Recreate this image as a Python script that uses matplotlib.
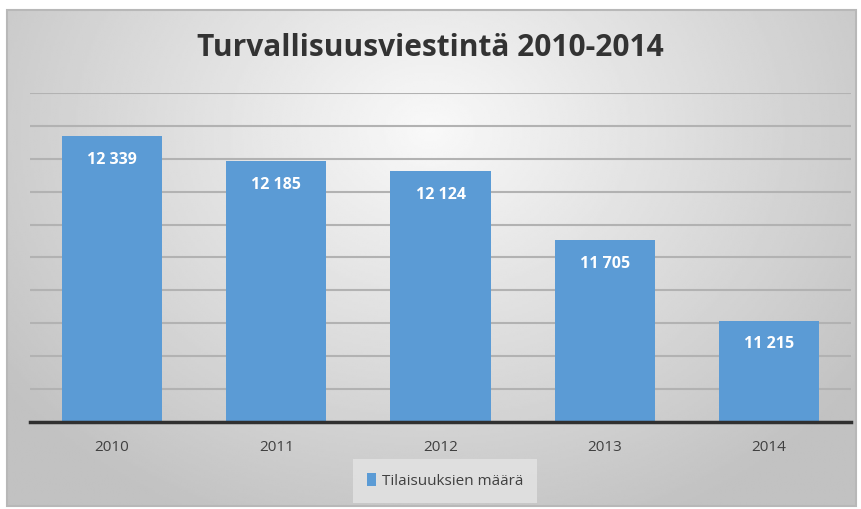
import numpy as np
import matplotlib
matplotlib.use("Agg")
import matplotlib.pyplot as plt
from matplotlib.patches import Rectangle

years = ["2010", "2011", "2012", "2013", "2014"]
values = [12339, 12185, 12124, 11705, 11215]
labels = ["12 339", "12 185", "12 124", "11 705", "11 215"]
series_name = "Tilaisuuksien määrä"
title = "Turvallisuusviestintä 2010-2014"

W, H = 861, 509
fig = plt.figure(figsize=(W / 100, H / 100), dpi=100)
fig.patch.set_facecolor("white")

# background panel with radial gradient
bg = fig.add_axes([0, 0, 1, 1])
bg.set_xlim(0, W)
bg.set_ylim(H, 0)
bg.axis("off")
x0, x1, y0, y1 = 7, 856, 10, 506
xx, yy = np.meshgrid(np.linspace(x0, x1, 400), np.linspace(y0, y1, 240))
d = np.sqrt(((xx - 430) / 520) ** 2 + ((yy - 130) / 420) ** 2)
shade = np.clip(0.975 - 0.21 * d, 0.76, 0.975)
bg.imshow(shade, cmap="gray", vmin=0, vmax=1, extent=(x0, x1, y1, y0),
          aspect="auto", interpolation="bilinear")
bg.add_patch(Rectangle((x0, y0), x1 - x0, y1 - y0, fill=False,
                       edgecolor="#B8B8B8", lw=1.5))

ax = fig.add_axes([30 / W, (H - 422) / H, (851 - 30) / W, (422 - 93) / H])
ax.patch.set_alpha(0)
x = np.arange(len(years))
bars = ax.bar(x, values, width=0.61, color="#5B9BD5", zorder=3)
ax.set_ylim(10600, 12600)
ax.set_xlim(-0.5, len(years) - 0.5)
ax.set_yticks(np.arange(10600, 12601, 200))
ax.yaxis.grid(True, color="#B2B2B2", lw=1.5, zorder=0)
ax.set_yticklabels([])
ax.tick_params(axis="y", length=0)
ax.tick_params(axis="x", length=0, pad=13, labelsize=11, labelcolor="#404040")
ax.set_xticks(x)
ax.set_xticklabels(years, family="Open Sans")
for s in ["top", "left", "right"]:
    ax.spines[s].set_visible(False)
ax.spines["bottom"].set_color("#303030")
ax.spines["bottom"].set_linewidth(2.5)
ax.spines["bottom"].set_zorder(4)

for b, lab in zip(bars, labels):
    ax.annotate(lab, (b.get_x() + b.get_width() / 2, b.get_height()),
                xytext=(0, -17), textcoords="offset points", ha="center",
                va="center", color="white", fontsize=11.5, fontweight="bold",
                family="Open Sans", zorder=5)

fig.text(0.5, 1 - 48 / H, title, ha="center", va="center", fontsize=21.5,
         fontweight="bold", family="Open Sans", color="#333333")

leg = fig.legend([bars[0]], [series_name], loc="center",
                 bbox_to_anchor=(445 / W, 1 - 481 / H), frameon=True,
                 prop={"family": "Open Sans", "size": 11},
                 handlelength=0.6, handleheight=0.9, handletextpad=0.4,
                 borderpad=0.9, fancybox=False)
leg.get_frame().set_facecolor("#E4E4E4")
leg.get_frame().set_edgecolor("none")
for t in leg.get_texts():
    t.set_color("#404040")

fig.savefig("out.png", dpi=100)
